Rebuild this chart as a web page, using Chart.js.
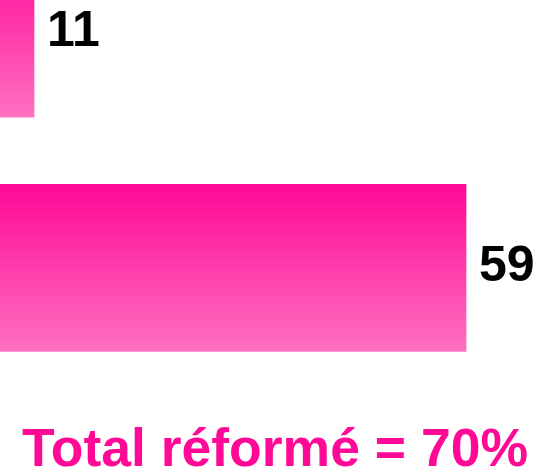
<!DOCTYPE html>
<html>
<head>
<meta charset="utf-8">
<script src="https://cdn.jsdelivr.net/npm/chart.js@4/dist/chart.umd.min.js"></script>
<style>
  html, body { margin: 0; padding: 0; background: #fff; }
  #wrap { width: 550px; height: 473px; position: relative; }
</style>
</head>
<body>
<div id="wrap"><canvas id="reformChart"></canvas></div>
<script>
// row positions (top to bottom) and bar values
const rows = [0, 1];
const values = [11, 59];
const titleText = 'Total réformé = 70%';

const FONT = '"Liberation Sans", Arial, sans-serif';
const BAR_H = 167;

// gradient per bar, from its own top to bottom
function barGradient(ctx) {
    const chart = ctx.chart;
    const yScale = chart.scales.y;
    if (!yScale || ctx.dataIndex === undefined) return '#ff3aa8';
    const cy = yScale.getPixelForValue(rows[ctx.dataIndex]);
    if (!isFinite(cy)) return '#ff3aa8';
    const g = chart.ctx.createLinearGradient(0, cy - BAR_H / 2, 0, cy + BAR_H / 2);
    g.addColorStop(0, '#ff0996');
    g.addColorStop(1, '#ff70c2');
    return g;
}

const valueLabels = {
    id: 'valueLabels',
    afterDatasetsDraw(chart) {
        const c = chart.ctx;
        const meta = chart.getDatasetMeta(0);
        c.save();
        c.font = 'bold 50px ' + FONT;
        c.fillStyle = '#000';
        c.textAlign = 'left';
        c.textBaseline = 'middle';
        meta.data.forEach((bar, i) => {
            c.fillText(String(values[i]), bar.x + 13, bar.y - 1);
        });
        c.restore();
    }
};

new Chart('reformChart', {
    type: 'bar',
    data: {
        datasets: [{
            data: rows.map((r, i) => ({ x: values[i], y: r })),
            backgroundColor: barGradient,
            borderWidth: 0,
            barThickness: BAR_H
        }]
    },
    options: {
        indexAxis: 'y',
        responsive: true,
        maintainAspectRatio: false,
        animation: false,
        layout: { padding: 0 },
        scales: {
            x: { type: 'linear', min: 7.22, max: 68.33, offset: false, display: false },
            y: { type: 'linear', reverse: true, min: -0.1438, max: 1.693, offset: false, display: false }
        },
        plugins: {
            legend: { display: false },
            tooltip: { enabled: false },
            title: {
                display: true,
                position: 'bottom',
                text: titleText,
                color: '#ff0996',
                font: { family: FONT, size: 53.5, weight: 'bold', lineHeight: 0.8 },
                padding: { top: 0, bottom: 0 }
            }
        }
    },
    plugins: [valueLabels]
});
</script>
</body>
</html>
